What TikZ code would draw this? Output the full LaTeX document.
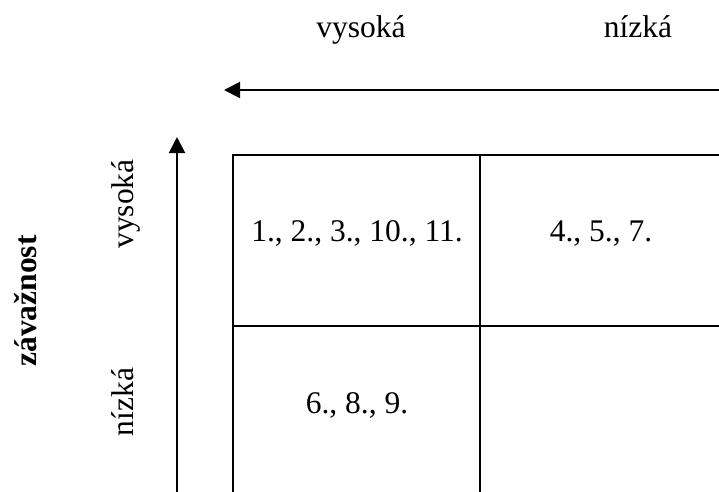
\documentclass[tikz,border=0pt]{standalone}
\usepackage{fontspec}
\setmainfont{Liberation Serif}
\usetikzlibrary{arrows.meta}
\begin{document}
\begin{tikzpicture}[x=1pt,y=-1pt,
  gridline/.style={line width=2pt},
  axis/.style={line width=2pt,-{Triangle[length=16pt,width=16pt]}},
  lbl/.style={inner sep=0pt,font=\fontsize{31.5}{36}\selectfont},
  blbl/.style={inner sep=0pt,font=\fontsize{31.5}{36}\selectfont\bfseries}]
\useasboundingbox (0,0) rectangle (719,491);
\clip (0,0) rectangle (719,491);
% grid
\coordinate (tl) at (233,155);
\coordinate (tm) at (480,155);
\coordinate (tr) at (725,155);
\coordinate (ml) at (233,326);
\coordinate (mr) at (725,326);
\coordinate (bl) at (233,495);
\coordinate (bm) at (480,495);
\draw[gridline] (bl) -- (tl) -- (tr);
\draw[gridline] (ml) -- (mr);
\draw[gridline] (tm) -- (bm);
% axes
\coordinate (hs) at (725,90);
\coordinate (he) at (224,90);
\draw[axis] (hs) -- (he);
\coordinate (vs) at (177,495);
\coordinate (ve) at (177,137);
\draw[axis] (vs) -- (ve);
% labels
\node[lbl,anchor=base] (hvys) at (361,37) {vysoká};
\node[lbl,anchor=base] (hniz) at (638,37) {nízká};
\node[lbl,anchor=base,rotate=90] (vvys) at (133,204) {vysoká};
\node[lbl,anchor=base,rotate=90] (vniz) at (133,402) {nízká};
\node[blbl,anchor=base,rotate=90] (zav) at (36,301) {závažnost};
% cells
\node[lbl,anchor=base] (c11) at (357,241) {1., 2., 3., 10., 11.};
\node[lbl,anchor=base] (c12) at (601,241) {4., 5., 7.};
\node[lbl,anchor=base] (c21) at (357,413) {6., 8., 9.};
\end{tikzpicture}
\end{document}
